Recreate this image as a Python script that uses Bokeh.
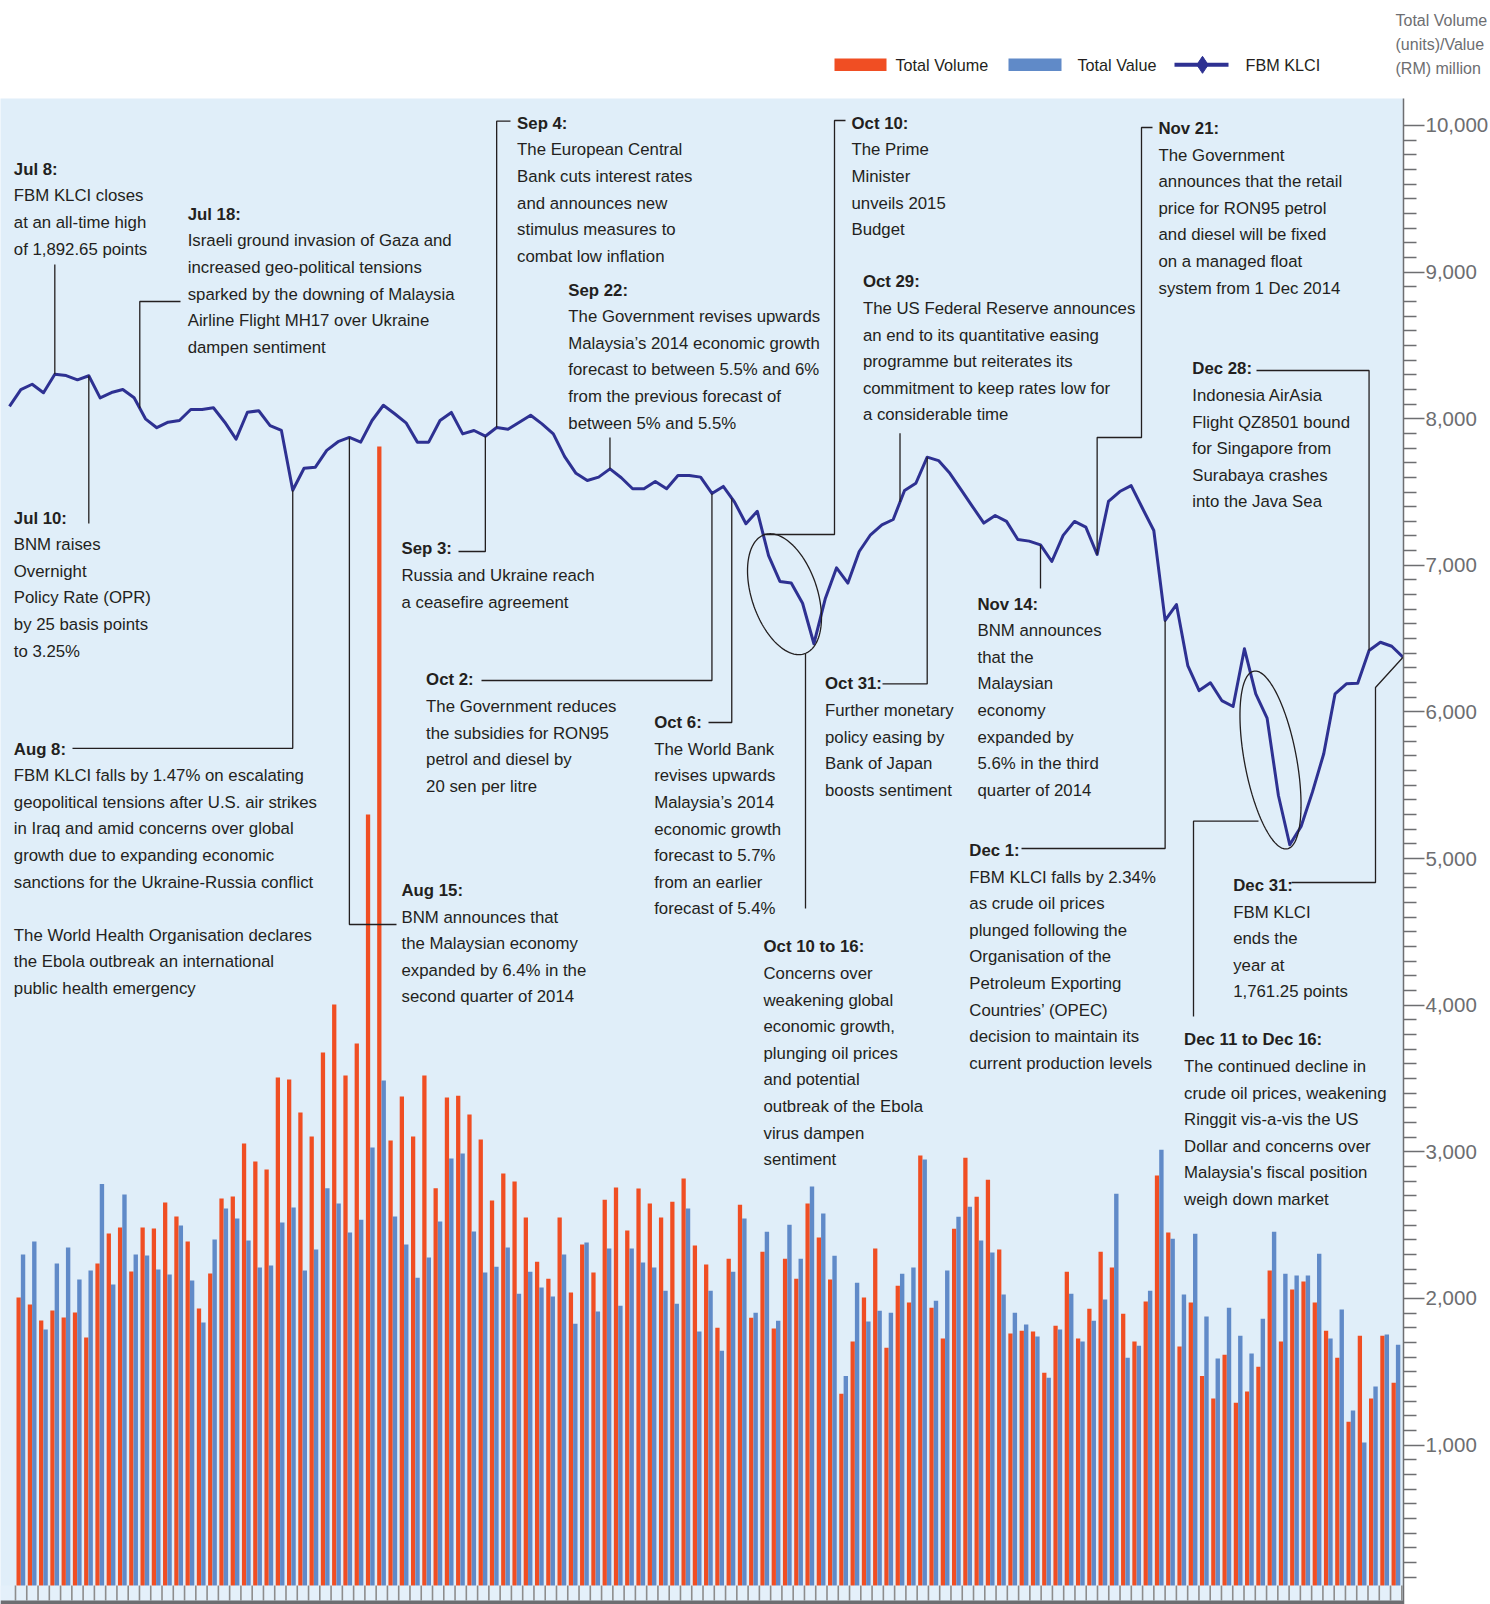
import numpy as np
from bokeh.plotting import figure
from bokeh.layouts import column
from bokeh.models import Range1d, LinearAxis, FixedTicker, NumeralTickFormatter
from bokeh.core.properties import value
from bokeh.embed import file_html
from bokeh.resources import INLINE

# ---------------- data ----------------
# daily total volume (million units) and total value (RM million), Jul-Dec 2014
volume = [2007, 1959, 1850, 1918, 1870, 1904, 1734, 2238, 2443, 2484,
          2184, 2484, 2477, 2654, 2559, 2388, 1932, 2170, 2682, 2696,
          3057, 2934, 2880, 3507, 3493, 3268, 3105, 3677, 4005, 3521,
          3739, 5300, 7811, 3077, 3377, 3104, 3520, 2751, 3371, 3383,
          3254, 3084, 2668, 2852, 2797, 2552, 2250, 2135, 2552, 2040,
          2368, 2177, 2673, 2757, 2463, 2750, 2647, 2552, 2660, 2818,
          2361, 2232, 1801, 2271, 2639, 1869, 2319, 1796, 2271, 2135,
          2647, 2416, 2129, 1351, 1706, 2006, 2340, 1664, 2087, 1972,
          2975, 1937, 1727, 2476, 2960, 2694, 2810, 2334, 1761, 1780,
          1775, 1493, 1814, 2182, 1727, 1930, 2319, 2211, 1895, 1706,
          1980, 2839, 2450, 1672, 1972, 1472, 1317, 1617, 1288, 1365,
          1535, 2190, 1706, 2061, 2116, 1972, 1780, 1596, 1160, 1746,
          1317, 1746, 1425]
value_rm = [2300, 2388, 1788, 2238, 2348, 2129, 2191, 2780, 2095, 2709,
            2300, 2293, 2197, 2163, 2498, 2122, 1836, 2402, 2614, 2545,
            2395, 2211, 2225, 2518, 2620, 2191, 2334, 2751, 2648, 2450,
            2537, 3030, 3486, 2559, 2368, 2142, 2280, 2525, 2955, 2989,
            2456, 2177, 2216, 2347, 2032, 2182, 2074, 2014, 2300, 1827,
            2382, 1911, 2340, 1951, 2340, 2245, 2211, 2053, 1964, 2613,
            1774, 2053, 1643, 2182, 2545, 1903, 2455, 1848, 2503, 2271,
            2763, 2579, 2292, 1472, 2108, 1843, 1916, 1903, 2169, 2211,
            2947, 1985, 2190, 2558, 2626, 2395, 2313, 2027, 1903, 1822,
            1740, 1459, 1788, 2032, 1706, 1848, 1993, 2715, 1596, 1677,
            2053, 3015, 2408, 2027, 2442, 1877, 1591, 1937, 1746, 1625,
            1861, 2455, 2169, 2156, 2156, 2305, 1727, 1924, 1236, 1018,
            1399, 1754, 1685]
# FBM KLCI closing level (one extra leading point before the first bar)
klci = [1879.6, 1887.5, 1890.0, 1886.0, 1894.7, 1894.1, 1892.1, 1894.0, 1883.6, 1886.1,
        1887.5, 1883.6, 1873.7, 1869.5, 1872.1, 1872.9, 1878.1, 1878.1, 1878.9, 1872.1,
        1864.1, 1876.8, 1877.5, 1870.5, 1868.2, 1840.0, 1850.4, 1850.9, 1858.8, 1862.9,
        1864.9, 1862.7, 1872.9, 1880.1, 1876.1, 1871.8, 1862.7, 1862.7, 1872.9, 1876.7,
        1866.6, 1868.2, 1865.5, 1869.6, 1868.8, 1872.1, 1875.4, 1871.3, 1866.6, 1855.9,
        1848.0, 1844.6, 1846.2, 1850.1, 1845.9, 1840.7, 1840.7, 1844.1, 1840.7, 1847.0,
        1847.0, 1846.2, 1838.5, 1841.8, 1834.4, 1824.2, 1830.1, 1809.2, 1797.0, 1796.3,
        1786.7, 1767.6, 1788.8, 1803.4, 1796.2, 1811.1, 1819.0, 1823.7, 1826.2, 1839.9,
        1843.3, 1855.6, 1854.0, 1848.0, 1840.2, 1832.3, 1824.5, 1828.1, 1825.3, 1816.8,
        1816.0, 1814.2, 1806.4, 1818.7, 1825.3, 1822.6, 1809.7, 1834.7, 1839.4, 1842.2,
        1831.5, 1821.0, 1778.6, 1786.1, 1757.3, 1745.5, 1749.2, 1740.8, 1738.0, 1765.2,
        1744.0, 1732.5, 1696.0, 1672.8, 1681.4, 1697.6, 1715.7, 1744.0, 1748.7, 1749.0,
        1764.4, 1768.3, 1766.4, 1761.25]

major_ticks = list(range(1000, 10001, 1000))
minor_ticks = [v for v in range(100, 10001, 100) if v % 1000 != 0]
legend_labels = ["Total Volume", "Total Value", "FBM KLCI"]
axis_title = ["Total Volume", "(units)/Value", "(RM) million"]

# annotations: (x, y of header, header, body lines)
notes = [
    (13.3, 168.8, "Jul 8:", ["FBM KLCI closes", "at an all-time high", "of 1,892.65 points"]),
    (187.2, 213.8, "Jul 18:", ["Israeli ground invasion of Gaza and", "increased geo-political tensions",
                               "sparked by the downing of Malaysia", "Airline Flight MH17 over Ukraine",
                               "dampen sentiment"]),
    (13.3, 517.6, "Jul 10:", ["BNM raises", "Overnight", "Policy Rate (OPR)", "by 25 basis points", "to 3.25%"]),
    (13.3, 748.5, "Aug 8:", ["FBM KLCI falls by 1.47% on escalating", "geopolitical tensions after U.S. air strikes",
                             "in Iraq and amid concerns over global", "growth due to expanding economic",
                             "sanctions for the Ukraine-Russia conflict", "",
                             "The World Health Organisation declares", "the Ebola outbreak an international",
                             "public health emergency"]),
    (401.0, 890.0, "Aug 15:", ["BNM announces that", "the Malaysian economy", "expanded by 6.4% in the",
                               "second quarter of 2014"]),
    (401.0, 548.3, "Sep 3:", ["Russia and Ukraine reach", "a ceasefire agreement"]),
    (516.6, 122.8, "Sep 4:", ["The European Central", "Bank cuts interest rates", "and announces new",
                              "stimulus measures to", "combat low inflation"]),
    (567.8, 289.5, "Sep 22:", ["The Government revises upwards", "Malaysia\u2019s 2014 economic growth",
                               "forecast to between 5.5% and 6%", "from the previous forecast of",
                               "between 5% and 5.5%"]),
    (425.6, 679.3, "Oct 2:", ["The Government reduces", "the subsidies for RON95", "petrol and diesel by",
                              "20 sen per litre"]),
    (653.7, 722.2, "Oct 6:", ["The World Bank", "revises upwards", "Malaysia\u2019s 2014", "economic growth",
                              "forecast to 5.7%", "from an earlier", "forecast of 5.4%"]),
    (851.0, 122.8, "Oct 10:", ["The Prime", "Minister", "unveils 2015", "Budget"]),
    (763.0, 946.3, "Oct 10 to 16:", ["Concerns over", "weakening global", "economic growth,", "plunging oil prices",
                                     "and potential", "outbreak of the Ebola", "virus dampen", "sentiment"]),
    (862.4, 281.3, "Oct 29:", ["The US Federal Reserve announces", "an end to its quantitative easing",
                               "programme but reiterates its", "commitment to keep rates low for",
                               "a considerable time"]),
    (824.5, 683.4, "Oct 31:", ["Further monetary", "policy easing by", "Bank of Japan", "boosts sentiment"]),
    (977.0, 603.6, "Nov 14:", ["BNM announces", "that the", "Malaysian", "economy", "expanded by",
                               "5.6% in the third", "quarter of 2014"]),
    (1158.0, 127.9, "Nov 21:", ["The Government", "announces that the retail", "price for RON95 petrol",
                                "and diesel will be fixed", "on a managed float", "system from 1 Dec 2014"]),
    (1191.8, 368.3, "Dec 28:", ["Indonesia AirAsia", "Flight QZ8501 bound", "for Singapore from",
                                "Surabaya crashes", "into the Java Sea"]),
    (968.8, 850.0, "Dec 1:", ["FBM KLCI falls by 2.34%", "as crude oil prices", "plunged following the",
                              "Organisation of the", "Petroleum Exporting", "Countries\u2019 (OPEC)",
                              "decision to maintain its", "current production levels"]),
    (1183.6, 1039.4, "Dec 11 to Dec 16:", ["The continued decline in", "crude oil prices, weakening",
                                           "Ringgit vis-a-vis the US", "Dollar and concerns over",
                                           "Malaysia's fiscal position", "weigh down market"]),
    (1232.7, 885.0, "Dec 31:", ["FBM KLCI", "ends the", "year at", "1,761.25 points"]),
]

# ---------------- styling ----------------
FONT = "Liberation Sans"
TXT = "#231f20"
BG = "#e0eef9"
ORANGE = "#f04e23"
BLUE = "#608ac8"
NAVY = "#2e3192"
GREY = "#6d6e71"
LINE_H = 26.6
FS = "16.8px"

FRAME_W = 1403
TOP, BOT = 98.0, 1604.0
PX_W = 1403.0

# ---------------- header (legend + axis title) ----------------
hdr = figure(frame_width=FRAME_W, frame_height=int(TOP), x_range=Range1d(0, PX_W), y_range=Range1d(TOP, 0),
             x_axis_location=None, y_axis_location=None, output_backend="svg", toolbar_location=None,
             min_border=0, background_fill_color="white", border_fill_color="white",
             outline_line_color=None)
hdr.grid.visible = False
hdr.quad(left=[834, 1008], right=[886, 1061], top=[58, 58], bottom=[70.6, 70.6],
         fill_color=[ORANGE, BLUE], line_color=None)
hdr.segment(x0=[1174], x1=[1228], y0=[64.3], y1=[64.3], line_color=NAVY, line_width=4)
hdr.scatter(x=[1202], y=[64.3], marker="diamond", size=17, fill_color=NAVY, line_color=NAVY)
hdr.text(x=[895, 1077, 1245], y=[64.5] * 3, text=legend_labels, text_font=value(FONT),
         text_font_size="16.2px", text_color=TXT, text_baseline="middle", text_align="left")

title_pos = [19.5, 43.5, 67.5]
tax = LinearAxis(ticker=FixedTicker(ticks=title_pos, minor_ticks=[]),
                 major_label_overrides={t: s for t, s in zip(title_pos, axis_title)})
tax.axis_line_color = None
tax.major_tick_line_color = None
tax.minor_tick_line_color = None
tax.major_tick_in = 0
tax.major_tick_out = 0
tax.major_label_standoff = -8
tax.major_label_text_font = FONT
tax.major_label_text_font_size = "16px"
tax.major_label_text_color = GREY
hdr.add_layout(tax, "right")

# ---------------- main chart ----------------
day = list(range(len(volume)))
kidx = list(range(len(klci)))

bar_x = Range1d(-1.81, 122.67)
bar_y = Range1d(-87.1, 10183.7)
px_x = Range1d(0, PX_W)
px_y = Range1d(BOT, TOP)
k_x = Range1d(-0.794, 123.04)
k_y = Range1d(1314.41, 2024.79)

p = figure(frame_width=FRAME_W, frame_height=int(BOT - TOP), x_range=bar_x, y_range=bar_y,
           x_axis_location=None, y_axis_location=None,
           output_backend="svg", toolbar_location=None,
           min_border_left=0, min_border_top=0, min_border_bottom=0, min_border_right=0,
           background_fill_color=BG, border_fill_color="white", outline_line_color=None)
p.grid.visible = False
p.extra_x_ranges = {"px": px_x, "kx": k_x}
p.extra_y_ranges = {"px": px_y, "k": k_y}
PX = dict(x_range_name="px", y_range_name="px")

# bars
p.vbar(x=[d - 0.2 for d in day], top=volume, bottom=0, width=0.38, fill_color=ORANGE, line_color=None)
p.vbar(x=[d + 0.19 for d in day], top=value_rm, bottom=0, width=0.39, fill_color=BLUE, line_color=None)

# bottom day strip
p.quad(left=[0], right=[PX_W], top=[1585], bottom=[1600], fill_color="#e4f0fa", line_color=None, **PX)
seps = [k - 0.48 for k in range(len(day) + 1)]
p.segment(x0=seps, x1=seps, y0=[1585] * len(seps), y1=[1600] * len(seps), y_range_name="px",
          line_color="#8d8d8d", line_width=1.6)
p.quad(left=[0], right=[PX_W], top=[1600], bottom=[BOT], fill_color=GREY, line_color=None, **PX)

# KLCI line
p.line(x=kidx, y=klci, x_range_name="kx", y_range_name="k", line_color=NAVY, line_width=3,
       line_join="round")


# anchors on the KLCI line, converted through the same ranges
def ax_(j):
    return (j - k_x.start) / (k_x.end - k_x.start) * PX_W


def ay_(j):
    v = float(np.interp(j, kidx, klci))
    return BOT - (v - k_y.start) / (k_y.end - k_y.start) * (BOT - TOP)


def A(j):
    return (ax_(j), ay_(j))


def path(*pts):
    return [q[0] for q in pts], [q[1] for q in pts]


leaders = [
    path((ax_(4), 264), A(4)),
    path((180, 301), (ax_(11.5), 301), A(11.5)),
    path(A(7), (ax_(7), 523)),
    path((72, 747.8), (ax_(25), 747.8), A(25)),
    path((396, 924), (ax_(30), 924), A(30)),
    path((458, 551), (ax_(42), 551), A(42)),
    path((510, 120.7), (ax_(43), 120.7), A(43)),
    path((ax_(53), 437), A(53)),
    path((481, 680), (ax_(62), 680), A(62)),
    path((708, 722), (ax_(63.75), 722), A(63.75)),
    path((763, 534), (834, 534), (834, 120), (845, 120)),
    path((805, 653), (805, 908)),
    path((ax_(78.6), 432.7), A(78.6)),
    path((882, 683.4), (ax_(81), 683.4), A(81)),
    path(A(91), (ax_(91), 588)),
    path((1152, 127), (1141, 127), (1141, 437), (ax_(96), 437), A(96)),
    path((1256, 370), (ax_(120), 370), A(120)),
    path((1021, 848), (ax_(102), 848), A(102)),
    path((1258, 820.7), (1193, 820.7), (1193, 1016)),
    path((1291, 882), (1375, 882), (1375, 687), A(123)),
]
p.multi_line(xs=[l[0] for l in leaders], ys=[l[1] for l in leaders], line_color=TXT, line_width=1.3, **PX)


# ellipses highlighting sharp falls
def ellipse(cx, cy, a, b, deg):
    t = np.linspace(0, 2 * np.pi, 160)
    th = np.radians(deg)
    d = (np.sin(th), np.cos(th))
    n = (np.cos(th), -np.sin(th))
    xs = cx + a * np.cos(t) * d[0] + b * np.sin(t) * n[0]
    ys = cy + a * np.cos(t) * d[1] + b * np.sin(t) * n[1]
    return list(xs), list(ys)


e1 = ellipse(784, 593.7, 62.8, 32.8, 18.6)
e2 = ellipse(1270, 759.5, 90.4, 26.0, 10.65)
p.multi_line(xs=[e1[0], e2[0]], ys=[e1[1], e2[1]], line_color=TXT, line_width=1.3, **PX)

# annotation texts
hx, hy, ht, bx, by, bt = [], [], [], [], [], []
for x, y, head, body in notes:
    hx.append(x); hy.append(y); ht.append(head)
    for i, line in enumerate(body):
        if line:
            bx.append(x); by.append(y + (i + 1) * LINE_H); bt.append(line)

p.text(x=hx, y=hy, text=ht, text_font=value(FONT), text_font_size=FS, text_font_style="bold",
       text_color=TXT, text_baseline="middle", text_align="left", **PX)
p.text(x=bx, y=by, text=bt, text_font=value(FONT), text_font_size=FS,
       text_color=TXT, text_baseline="middle", text_align="left", **PX)

# right axis
ax = LinearAxis(ticker=FixedTicker(ticks=major_ticks, minor_ticks=minor_ticks),
                formatter=NumeralTickFormatter(format="0,0"))
ax.axis_line_color = GREY
ax.axis_line_width = 1.5
ax.major_tick_in = 0
ax.major_tick_out = 21
ax.minor_tick_in = 0
ax.minor_tick_out = 13
ax.major_tick_line_color = GREY
ax.minor_tick_line_color = GREY
ax.major_tick_line_width = 1.5
ax.minor_tick_line_width = 1.5
ax.major_label_standoff = 1
ax.major_label_text_font = FONT
ax.major_label_text_font_size = "20.5px"
ax.major_label_text_color = GREY
p.add_layout(ax, "right")

layout = column(hdr, p, spacing=0)
open("out.html", "w").write(file_html(layout, INLINE, title="Bursa Malaysia 2014 H2"))
